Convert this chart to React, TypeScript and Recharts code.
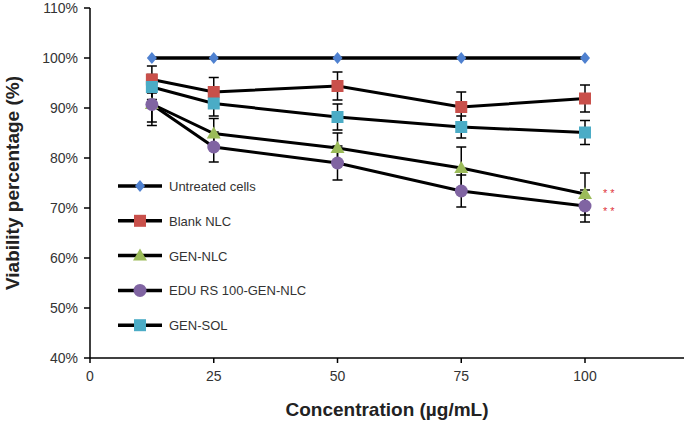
import React from "react";
import {
	LineChart,
	Line,
	XAxis,
	YAxis,
	ErrorBar,
	LabelList,
} from "recharts";

// concentrations (µg/mL)
const concentrations: number[] = [12.5, 25, 50, 75, 100];

// viability (%) per formulation
const untreated: number[] = [100, 100, 100, 100, 100];
const blankNlc: number[] = [95.7, 93.2, 94.4, 90.2, 91.9];
const genNlc: number[] = [90.8, 84.9, 82.0, 78.0, 72.8];
const eduNlc: number[] = [90.7, 82.2, 79.0, 73.4, 70.4];
const genSol: number[] = [94.2, 90.9, 88.2, 86.2, 85.1];

// error (± %)
const blankNlcErr: number[] = [2.7, 2.9, 2.8, 3.0, 2.7];
const genNlcErr: number[] = [3.6, 3.0, 3.0, 4.2, 4.2];
const eduNlcErr: number[] = [4.2, 3.0, 3.4, 3.2, 3.2];
const genSolErr: number[] = [2.5, 2.5, 2.6, 2.2, 2.4];

// significance marks
const genNlcSig: string[] = ["", "", "", "", "* *"];
const eduNlcSig: string[] = ["", "", "", "", "* *"];

const xTicks: number[] = [0, 25, 50, 75, 100];
const yTicks: number[] = [40, 50, 60, 70, 80, 90, 100, 110];

const rows = concentrations.map((c, i) => ({
	conc: c,
	untreated: untreated[i],
	blank: blankNlc[i],
	blankErr: blankNlcErr[i],
	gen: genNlc[i],
	genErr: genNlcErr[i],
	genSig: genNlcSig[i],
	edu: eduNlc[i],
	eduErr: eduNlcErr[i],
	eduSig: eduNlcSig[i],
	sol: genSol[i],
	solErr: genSolErr[i],
}));

const FONT = "'Liberation Sans', Arial, sans-serif";

type Kind = "diamond" | "square" | "triangle" | "circle";

const drawMarker = (kind: Kind, cx: number, cy: number, fill: string, key?: string) => {
	if (kind === "diamond")
		return (
			<path key={key} d={`M${cx},${cy - 6}L${cx + 5},${cy}L${cx},${cy + 6}L${cx - 5},${cy}Z`} fill={fill} />
		);
	if (kind === "square")
		return <rect key={key} x={cx - 6} y={cy - 6} width={12} height={12} fill={fill} />;
	if (kind === "triangle")
		return <path key={key} d={`M${cx},${cy - 7}L${cx + 7},${cy + 5}L${cx - 7},${cy + 5}Z`} fill={fill} />;
	return <circle key={key} cx={cx} cy={cy} r={6.5} fill={fill} />;
};

const makeDot = (kind: Kind, fill: string) => (props: any) => {
	const { cx, cy, index } = props;
	if (cx == null || cy == null) return <g key={index} />;
	return drawMarker(kind, cx, cy, fill, `d-${index}`);
};

const series = [
	{ key: "untreated", name: "Untreated cells", kind: "diamond" as Kind, color: "#4f81d0" },
	{ key: "blank", name: "Blank NLC", kind: "square" as Kind, color: "#c9504b" },
	{ key: "gen", name: "GEN-NLC", kind: "triangle" as Kind, color: "#9bbb59" },
	{ key: "edu", name: "EDU RS 100-GEN-NLC", kind: "circle" as Kind, color: "#8064a2" },
	{ key: "sol", name: "GEN-SOL", kind: "square" as Kind, color: "#4bacc6" },
];

// legend sits inside the plot, drawn over the chart
const LegendBox = () => (
	<svg width={260} height={160} style={{ position: "absolute", left: 118, top: 178 }}>
		{series.map((s, i) => {
			const y = 8 + i * 34.8;
			return (
				<g key={s.key}>
					<line x1={0} x2={44} y1={y} y2={y} stroke="#000" strokeWidth={3.5} />
					{drawMarker(s.kind, 22, y, s.color)}
					<text x={51} y={y + 5} fontSize={13} fill="#333" fontFamily={FONT}>
						{s.name}
					</text>
				</g>
			);
		})}
	</svg>
);

const makeSig = (dy: number) => (props: any) => {
	const { x, y, value } = props;
	if (!value) return null;
	return (
		<text x={x + 18} y={y + dy} fill="#e0353d" fontSize={11} fontFamily={FONT}>
			{value}
		</text>
	);
};

const App: React.FC = () => {
	return (
		<div style={{ position: "absolute", left: 0, top: 0, background: "#fff" }}>
			<LineChart
				width={687}
				height={424}
				data={rows}
				margin={{ top: 8, right: 3, bottom: 0, left: 0 }}
			>
				<XAxis
					dataKey="conc"
					type="number"
					domain={[0, 120]}
					ticks={xTicks}
					tickSize={5}
					tickMargin={8}
					height={66}
					stroke="#000"
					strokeWidth={1.5}
					tick={{ fill: "#333", fontSize: 14, fontFamily: FONT }}
					label={{
						value: "Concentration (µg/mL)",
						position: "insideBottom",
						offset: 8,
						fill: "#222",
						fontSize: 19,
						fontWeight: "bold",
						fontFamily: FONT,
					}}
				/>
				<YAxis
					type="number"
					domain={[40, 110]}
					ticks={yTicks}
					width={90}
					tickSize={6}
					tickMargin={6}
					stroke="#000"
					strokeWidth={1.5}
					tickFormatter={(v: number) => `${v}%`}
					tick={{ fill: "#333", fontSize: 14, fontFamily: FONT }}
					label={{
						value: "Viability percentage (%)",
						angle: -90,
						position: "insideLeft",
						offset: 12,
						style: { textAnchor: "middle" },
						fill: "#222",
						fontSize: 19,
						fontWeight: "bold",
						fontFamily: FONT,
					}}
				/>
				<Line
					dataKey="blank"
					name="Blank NLC"
					stroke="#000"
					strokeWidth={3}
					dot={makeDot("square", "#c9504b")}
					isAnimationActive={false}
				>
					<ErrorBar dataKey="blankErr" direction="y" width={5} stroke="#000" strokeWidth={1.5} />
				</Line>
				<Line
					dataKey="sol"
					name="GEN-SOL"
					stroke="#000"
					strokeWidth={3}
					dot={makeDot("square", "#4bacc6")}
					isAnimationActive={false}
				>
					<ErrorBar dataKey="solErr" direction="y" width={5} stroke="#000" strokeWidth={1.5} />
				</Line>
				<Line
					dataKey="gen"
					name="GEN-NLC"
					stroke="#000"
					strokeWidth={3}
					dot={makeDot("triangle", "#9bbb59")}
					isAnimationActive={false}
				>
					<ErrorBar dataKey="genErr" direction="y" width={5} stroke="#000" strokeWidth={1.5} />
					<LabelList dataKey="genSig" content={makeSig(3)} />
				</Line>
				<Line
					dataKey="edu"
					name="EDU RS 100-GEN-NLC"
					stroke="#000"
					strokeWidth={3}
					dot={makeDot("circle", "#8064a2")}
					isAnimationActive={false}
				>
					<ErrorBar dataKey="eduErr" direction="y" width={5} stroke="#000" strokeWidth={1.5} />
					<LabelList dataKey="eduSig" content={makeSig(9)} />
				</Line>
				<Line
					dataKey="untreated"
					name="Untreated cells"
					stroke="#000"
					strokeWidth={3.5}
					dot={makeDot("diamond", "#4f81d0")}
					isAnimationActive={false}
				/>
			</LineChart>
			<LegendBox />
		</div>
	);
};

export default App;
